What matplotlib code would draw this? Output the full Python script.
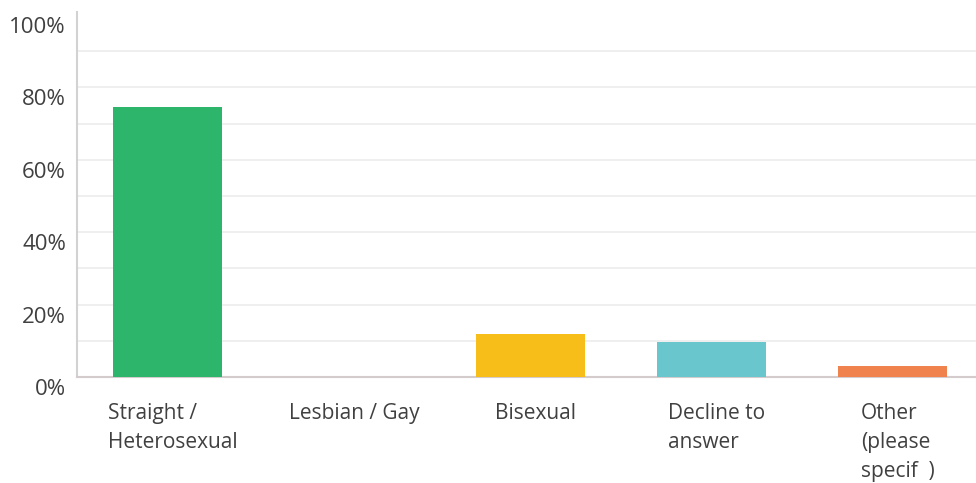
import numpy as np
import matplotlib.pyplot as plt
import matplotlib.transforms as mtransforms

# Survey responses, share of respondents (%)
categories = ["Straight /\nHeterosexual", "Lesbian / Gay", "Bisexual",
              "Decline to\nanswer", "Other\n(please\nspecif  )"]
shares = [74.6, 0.0, 11.8, 9.7, 3.1]
colors = ["#2db56b", "#2db56b", "#f7bd19", "#68c6cc", "#f0834d"]
y_ticks = [0, 20, 40, 60, 80, 100]
y_tick_labels = ["0%", "20%", "40%", "60%", "80%", "100%"]

plt.rcParams['font.family'] = ['Open Sans', 'DejaVu Sans']

fig = plt.figure(figsize=(9.76, 4.83), dpi=100)
ax = fig.add_axes([77 / 976, 1 - 377 / 483, (983.5 - 77) / 976, (377 - 15) / 483])

x = np.arange(len(categories))
ax.bar(x, shares, width=0.6, color=colors, zorder=3)

ax.set_xlim(-0.5, len(categories) - 0.5)
ax.set_ylim(0, 100)

# light horizontal guides every 10%
for v in range(10, 100, 10):
    ax.axhline(v, color="#ececec", lw=1.2, zorder=1)

ax.set_yticks(y_ticks)
ax.set_yticklabels(y_tick_labels)
ax.set_xticks(x)
ax.set_xticklabels(categories, linespacing=1.5, ha="center",
                   multialignment="left")

ax.tick_params(axis="both", length=0, labelcolor="#404040")
ax.tick_params(axis="y", pad=8, labelsize=16)
ax.tick_params(axis="x", pad=19, labelsize=15)
for lab in ax.get_xticklabels():
    lab.set_verticalalignment("top")
    # wrapped labels sit a touch right of the bar centre
    lab.set_transform(lab.get_transform() + mtransforms.ScaledTranslation(
        5 / 100, 0, fig.dpi_scale_trans))

# push the percent labels a little below their gridlines
shift = mtransforms.ScaledTranslation(0, -10 / 100, fig.dpi_scale_trans)
for lab in ax.get_yticklabels():
    lab.set_transform(lab.get_transform() + shift)

for side in ["top", "right"]:
    ax.spines[side].set_visible(False)
ax.spines["left"].set_color("#d2d2d2")
ax.spines["left"].set_linewidth(1.5)
ax.spines["left"].set_bounds(0, 100.8)
ax.spines["bottom"].set_color("#d4cccc")
ax.spines["bottom"].set_linewidth(1.5)

fig.savefig("out.png", dpi=100)
